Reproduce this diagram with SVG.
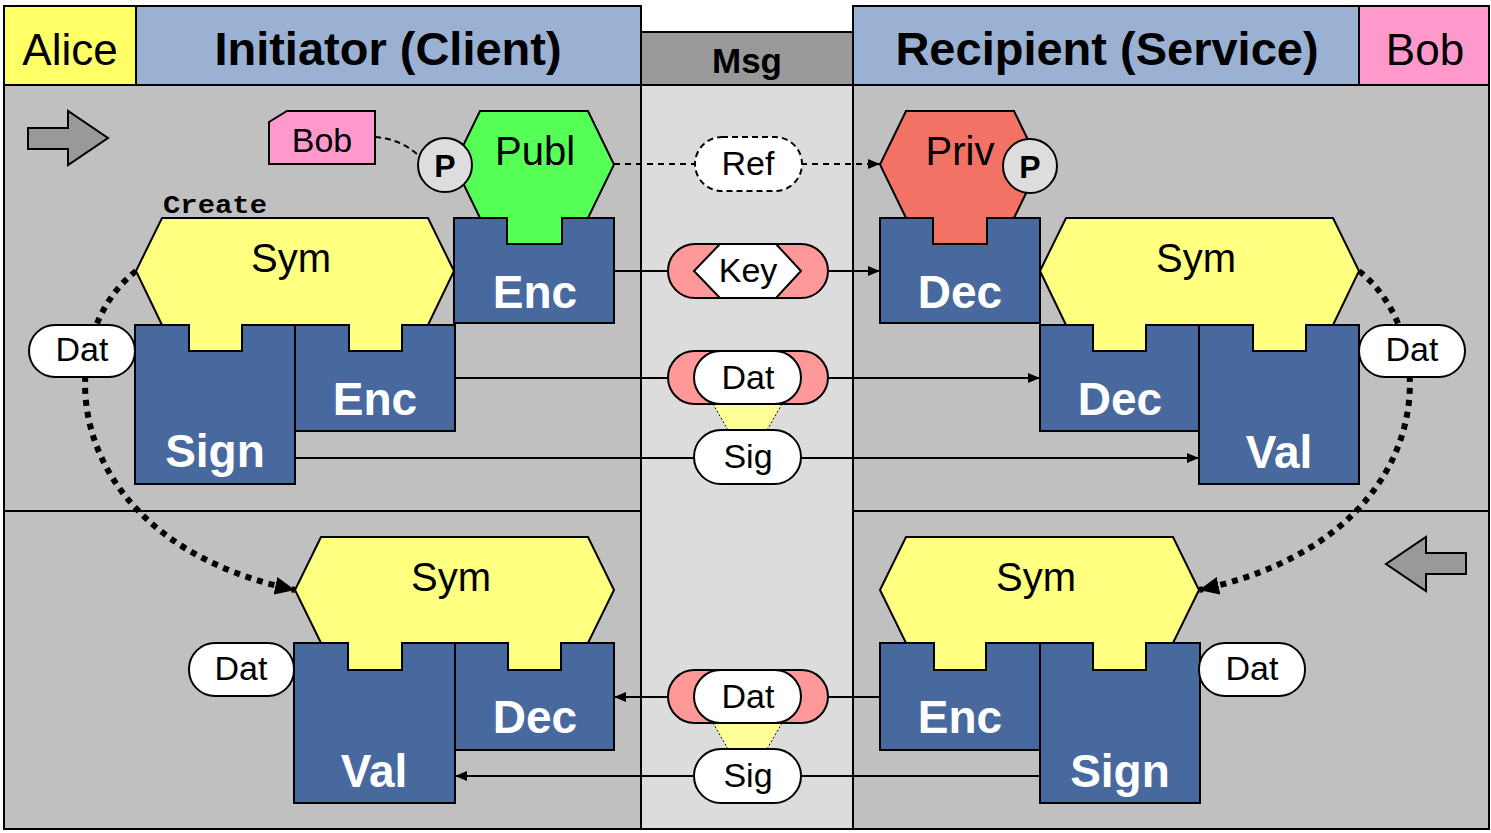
<svg xmlns="http://www.w3.org/2000/svg" width="1491" height="833" viewBox="0 0 1491 833">
<defs>
<style>
.box{fill:#48699E;stroke:#000;stroke-width:2}
.sym{fill:#FFFF80;stroke:#000;stroke-width:2}
.lbl{font-family:"Liberation Sans",Arial,sans-serif;font-weight:bold;font-size:46px;fill:#fff;text-anchor:middle}
.t{font-family:"Liberation Sans",Arial,sans-serif;text-anchor:middle;fill:#000}
.pt{font-family:"Liberation Sans",Arial,sans-serif;text-anchor:middle;fill:#000;font-size:34px}
.symt{font-family:"Liberation Sans",Arial,sans-serif;text-anchor:middle;fill:#000;font-size:40px}
.pill{fill:#fff;stroke:#000;stroke-width:2}
.pink{fill:#FF9999;stroke:#000;stroke-width:2}
.conn{stroke:#000;stroke-width:2;fill:none}
.dot{stroke:#000;stroke-width:6;stroke-dasharray:6 6;fill:none}
.hdr{stroke:#000;stroke-width:2}
.pc{fill:#DDDDDD;stroke:#000;stroke-width:2}
.trap{fill:#FFFF99;stroke:none}
.trapl{stroke:#000;stroke-width:1;stroke-dasharray:2 2}
.garrow{fill:#999;stroke:#000;stroke-width:2}
</style>
<marker id="arr" markerWidth="12" markerHeight="10" refX="12" refY="5" orient="auto" markerUnits="userSpaceOnUse"><path d="M0,0 L12,5 L0,10 Z" fill="#000"/></marker>
<marker id="big" markerWidth="20" markerHeight="18" refX="20" refY="9" orient="auto" markerUnits="userSpaceOnUse"><path d="M0,0 L20,9 L0,18 Z" fill="#000"/></marker>
</defs>

<g id="background">
<rect x="4" y="85" width="637" height="744" fill="#C0C0C0" stroke="#000" stroke-width="2"/>
<rect x="641" y="85" width="212" height="744" fill="#DCDCDC" stroke="#000" stroke-width="2"/>
<rect x="853" y="85" width="636" height="744" fill="#C0C0C0" stroke="#000" stroke-width="2"/>
<line x1="4" y1="511" x2="641" y2="511" stroke="#000" stroke-width="2"/>
<line x1="853" y1="511" x2="1489" y2="511" stroke="#000" stroke-width="2"/>
</g>

<g id="header">
<rect x="4" y="6" width="132" height="79" fill="#FFFF66" class="hdr"/>
<rect x="136" y="6" width="505" height="79" fill="#9AB1D3" class="hdr"/>
<rect x="641" y="32" width="212" height="53" fill="#999999" class="hdr"/>
<rect x="853" y="6" width="506" height="79" fill="#9AB1D3" class="hdr"/>
<rect x="1359" y="6" width="130" height="79" fill="#FF99CC" class="hdr"/>
<text x="70" y="65" class="t" font-size="44">Alice</text>
<text x="388" y="65" class="t" font-size="47" font-weight="bold">Initiator (Client)</text>
<text x="747" y="73" class="t" font-size="35" font-weight="bold">Msg</text>
<text x="1107" y="65" class="t" font-size="47" font-weight="bold">Recipient (Service)</text>
<text x="1425" y="65" class="t" font-size="44">Bob</text>
</g>

<g id="arrow-right">
<path class="garrow" d="M28,128 H68 V111 L108,138 L68,165 V149 H28 Z"/>
</g>
<g id="arrow-left">
<path class="garrow" d="M1466,553 H1426 V537 L1386,564 L1426,591 V574 H1466 Z"/>
</g>

<g id="connectors">
<path class="conn" d="M375,137 Q402,139 420,157" stroke-dasharray="6 4"/>
<line class="conn" x1="614" y1="164" x2="880" y2="164" stroke-dasharray="6 5" marker-end="url(#arr)"/>
<line class="conn" x1="615" y1="271" x2="880" y2="271" marker-end="url(#arr)"/>
<line class="conn" x1="455" y1="378" x2="1040" y2="378" marker-end="url(#arr)"/>
<line class="conn" x1="295" y1="458" x2="1199" y2="458" marker-end="url(#arr)"/>
<line class="conn" x1="880" y1="697" x2="614" y2="697" marker-end="url(#arr)"/>
<line class="conn" x1="1040" y1="776" x2="455" y2="776" marker-end="url(#arr)"/>
<path class="dot" d="M136,271 C48,340 58,540 295,590" marker-end="url(#big)"/>
<path class="dot" d="M1359,271 C1447,340 1437,540 1199,590" marker-end="url(#big)"/>
</g>

<g id="bob-tag">
<path d="M269,122 L287,111 H375 V164 H269 Z" fill="#FF99CC" stroke="#000" stroke-width="2"/>
<text x="322" y="152" class="pt">Bob</text>
</g>

<g id="publ">
<path d="M480,111 H588 L614,164.5 L588,218 H562 V244 H507 V218 H480 L454,164.5 Z" fill="#55FF55" stroke="#000" stroke-width="2"/>
<text x="535" y="165" class="symt">Publ</text>
</g>
<g id="p-left">
<circle cx="445" cy="165" r="27" class="pc"/>
<text x="445" y="177" class="t" font-size="32" font-weight="bold">P</text>
</g>
<g id="enc-top">
<path class="box" d="M454,218 H507 V244 H562 V218 H614 V323 H454 Z"/>
<text x="535" y="308" class="lbl">Enc</text>
</g>

<g id="create-label">
<text x="163" y="213" font-family="'Liberation Mono','Courier New',monospace" font-weight="bold" font-size="26" textLength="104" lengthAdjust="spacingAndGlyphs">Create</text>
</g>

<g id="sym-tl">
<path class="sym" d="M162,218 H428 L454,271 L428,325 H402 V351 H349 V325 H242 V351 H189 V325 H162 L136,271 Z"/>
<text x="291" y="272" class="symt">Sym</text>
</g>
<g id="sign-tl">
<path class="box" d="M135,325 H189 V351 H242 V325 H295 V484 H135 Z"/>
<text x="215" y="467" class="lbl">Sign</text>
</g>
<g id="enc-tl">
<path class="box" d="M295,325 H349 V351 H402 V325 H455 V431 H295 Z"/>
<text x="375" y="415" class="lbl">Enc</text>
</g>
<g id="dat-l">
<rect x="29" y="325" width="106" height="52" rx="26" class="pill"/>
<text x="82" y="361" class="pt">Dat</text>
</g>

<g id="priv">
<path d="M906,111 H1014 L1040,164.5 L1014,218 H987 V244 H933 V218 H906 L880,164.5 Z" fill="#F27366" stroke="#000" stroke-width="2"/>
<text x="960" y="165" class="symt">Priv</text>
</g>
<g id="p-right">
<circle cx="1030" cy="166" r="27" class="pc"/>
<text x="1030" y="178" class="t" font-size="32" font-weight="bold">P</text>
</g>
<g id="dec-top">
<path class="box" d="M880,218 H933 V244 H987 V218 H1040 V323 H880 Z"/>
<text x="960" y="308" class="lbl">Dec</text>
</g>

<g id="sym-tr">
<path class="sym" d="M1066,218 H1333 L1359,271 L1333,325 H1306 V351 H1253 V325 H1146 V351 H1093 V325 H1066 L1040,271 Z"/>
<text x="1196" y="272" class="symt">Sym</text>
</g>
<g id="dec-tr">
<path class="box" d="M1040,325 H1093 V351 H1146 V325 H1199 V431 H1040 Z"/>
<text x="1120" y="415" class="lbl">Dec</text>
</g>
<g id="val-tr">
<path class="box" d="M1199,325 H1253 V351 H1306 V325 H1359 V484 H1199 Z"/>
<text x="1279" y="468" class="lbl">Val</text>
</g>
<g id="dat-r">
<rect x="1359" y="325" width="106" height="52" rx="26" class="pill"/>
<text x="1412" y="361" class="pt">Dat</text>
</g>

<g id="sym-bl">
<path class="sym" d="M321,537 H588 L614,590 L588,643 H561 V670 H508 V643 H402 V670 H348 V643 H321 L295,590 Z"/>
<text x="451" y="591" class="symt">Sym</text>
</g>
<g id="val-bl">
<path class="box" d="M294,643 H348 V670 H402 V643 H455 V803 H294 Z"/>
<text x="374" y="787" class="lbl">Val</text>
</g>
<g id="dec-bl">
<path class="box" d="M455,643 H508 V670 H561 V643 H614 V750 H455 Z"/>
<text x="535" y="733" class="lbl">Dec</text>
</g>
<g id="dat-bl">
<rect x="189" y="643" width="105" height="53" rx="26" class="pill"/>
<text x="241" y="680" class="pt">Dat</text>
</g>

<g id="sym-br">
<path class="sym" d="M906,537 H1173 L1199,590 L1173,643 H1146 V670 H1093 V643 H986 V670 H934 V643 H906 L880,590 Z"/>
<text x="1036" y="591" class="symt">Sym</text>
</g>
<g id="enc-br">
<path class="box" d="M880,643 H934 V670 H986 V643 H1040 V750 H880 Z"/>
<text x="960" y="733" class="lbl">Enc</text>
</g>
<g id="sign-br">
<path class="box" d="M1040,643 H1093 V670 H1146 V643 H1200 V803 H1040 Z"/>
<text x="1120" y="787" class="lbl">Sign</text>
</g>
<g id="dat-br">
<rect x="1199" y="643" width="106" height="53" rx="26" class="pill"/>
<text x="1252" y="680" class="pt">Dat</text>
</g>

<g id="ref">
<rect x="695" y="137" width="107" height="54" rx="27" fill="#fff" stroke="#000" stroke-width="2" stroke-dasharray="6 4"/>
<text x="748" y="175" class="pt">Ref</text>
</g>
<g id="key">
<rect x="668" y="244" width="160" height="54" rx="27" class="pink"/>
<polygon points="694,271 720,244 776,244 801,271 776,298 720,298" class="pill"/>
<text x="748" y="282" class="pt">Key</text>
</g>
<g id="msg-top">
<polygon points="713,404 782,404 767,430 728,430" class="trap"/>
<line x1="713" y1="404" x2="728" y2="430" class="trapl"/>
<line x1="782" y1="404" x2="767" y2="430" class="trapl"/>
<rect x="668" y="351" width="160" height="53" rx="26.5" class="pink"/>
<rect x="694" y="351" width="107" height="53" rx="26.5" class="pill"/>
<text x="748" y="389" class="pt">Dat</text>
<rect x="694" y="430" width="107" height="54" rx="27" class="pill"/>
<text x="748" y="468" class="pt">Sig</text>
</g>
<g id="msg-bottom">
<polygon points="713,723 782,723 767,749 728,749" class="trap"/>
<line x1="713" y1="723" x2="728" y2="749" class="trapl"/>
<line x1="782" y1="723" x2="767" y2="749" class="trapl"/>
<rect x="668" y="670" width="160" height="53" rx="26.5" class="pink"/>
<rect x="694" y="670" width="107" height="53" rx="26.5" class="pill"/>
<text x="748" y="708" class="pt">Dat</text>
<rect x="694" y="749" width="107" height="54" rx="27" class="pill"/>
<text x="748" y="787" class="pt">Sig</text>
</g>
</svg>
